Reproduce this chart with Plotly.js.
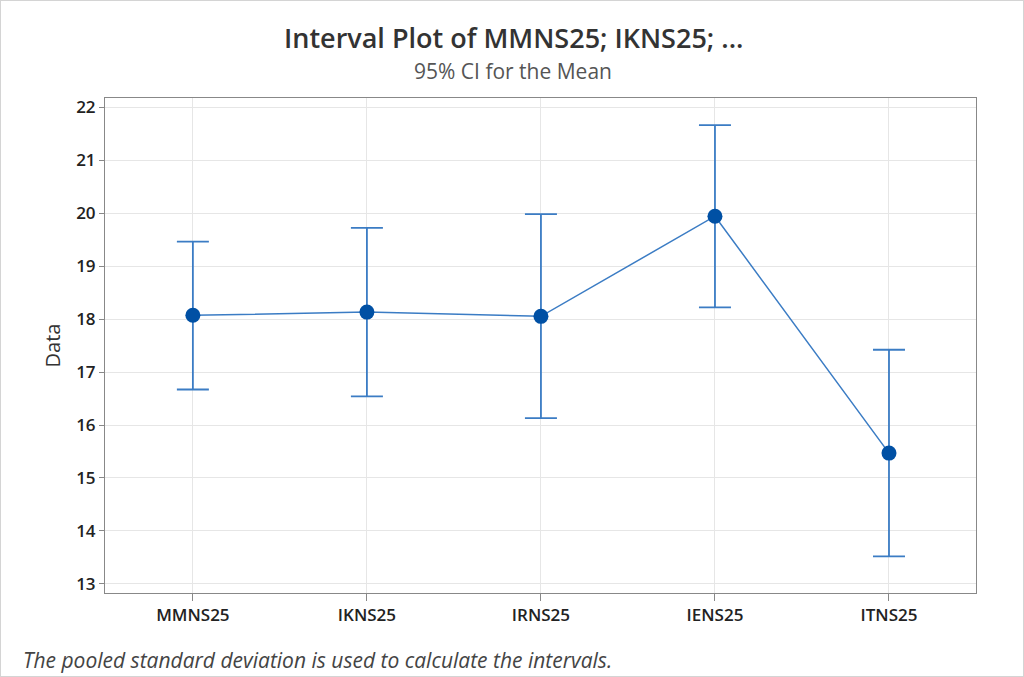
<!DOCTYPE html>
<html>
<head>
<meta charset="utf-8">
<script src="https://cdn.plot.ly/plotly-3.0.1.min.js"></script>
<style>
html,body{margin:0;padding:0;background:#fff;}
#chart{width:1024px;height:677px;box-sizing:border-box;border:1px solid #d4d4d4;}
</style>
</head>
<body>
<div id="chart"></div>
<script>
var categories = ["MMNS25", "IKNS25", "IRNS25", "IENS25", "ITNS25"];
var means = [18.07, 18.13, 18.05, 19.94, 15.47];
var lower = [16.67, 16.54, 16.13, 18.22, 13.52];
var upper = [19.46, 19.72, 19.98, 21.66, 17.42];
var yTicks = [13, 14, 15, 16, 17, 18, 19, 20, 21, 22];

var plus = means.map(function(m, i){ return upper[i] - m; });
var minus = means.map(function(m, i){ return m - lower[i]; });

var trace = {
  x: [0, 1, 2, 3, 4],
  y: means,
  type: 'scatter',
  mode: 'lines+markers',
  line: {color: '#3b7cc4', width: 1.5},
  marker: {color: '#0050a4', size: 15},
  error_y: {
    type: 'data', symmetric: false,
    array: plus, arrayminus: minus,
    color: '#3b7cc4', thickness: 1.8, width: 16
  },
  hoverinfo: 'skip'
};

var F = 'Open Sans, Noto Sans, sans-serif';
var layout = {
  width: 1022, height: 675,
  margin: {l: 104, r: 47, t: 97, b: 83},
  paper_bgcolor: '#ffffff',
  plot_bgcolor: '#ffffff',
  showlegend: false,
  font: {family: F, color: '#333'},
  xaxis: {
    range: [-0.505, 4.5],
    tickmode: 'array',
    tickvals: [0, 1, 2, 3, 4],
    ticktext: categories,
    showgrid: true, gridcolor: '#e6e6e6', gridwidth: 1,
    zeroline: false,
    ticks: 'outside', ticklen: 7, tickcolor: '#888',
    showline: true, linecolor: '#888', linewidth: 1, mirror: true,
    tickfont: {size: 17, color: '#222', family: F, weight: 600}
  },
  yaxis: {
    range: [12.83, 22.17],
    tickmode: 'array',
    tickvals: yTicks,
    ticktext: yTicks.map(String),
    showgrid: true, gridcolor: '#e6e6e6', gridwidth: 1,
    zeroline: false,
    ticks: 'outside', ticklen: 5, tickcolor: '#888',
    showline: true, linecolor: '#888', linewidth: 1, mirror: true,
    tickfont: {size: 17, color: '#222', family: F, weight: 600},
    title: {text: 'Data', font: {size: 20, color: '#333', family: F}, standoff: 10}
  },
  annotations: [
    {text: 'Interval Plot of MMNS25; IKNS25; ...', xref: 'paper', yref: 'paper',
     x: 0.4685, y: 1, yshift: 61, xanchor: 'center', yanchor: 'middle', showarrow: false,
     font: {size: 27, color: '#333', family: F, weight: 600}},
    {text: '95% CI for the Mean', xref: 'paper', yref: 'paper',
     x: 0.4685, y: 1, yshift: 27, xanchor: 'center', yanchor: 'middle', showarrow: false,
     font: {size: 21, color: '#555', family: F}},
    {text: '<i>The pooled standard deviation is used to calculate the intervals.</i>',
     xref: 'paper', yref: 'paper', x: 0, y: 0, xshift: -84, yshift: -67,
     xanchor: 'left', yanchor: 'middle', showarrow: false,
     font: {size: 21, color: '#444', family: F}}
  ]
};

Plotly.newPlot('chart', [trace], layout, {displayModeBar: false, staticPlot: true});
</script>
</body>
</html>
